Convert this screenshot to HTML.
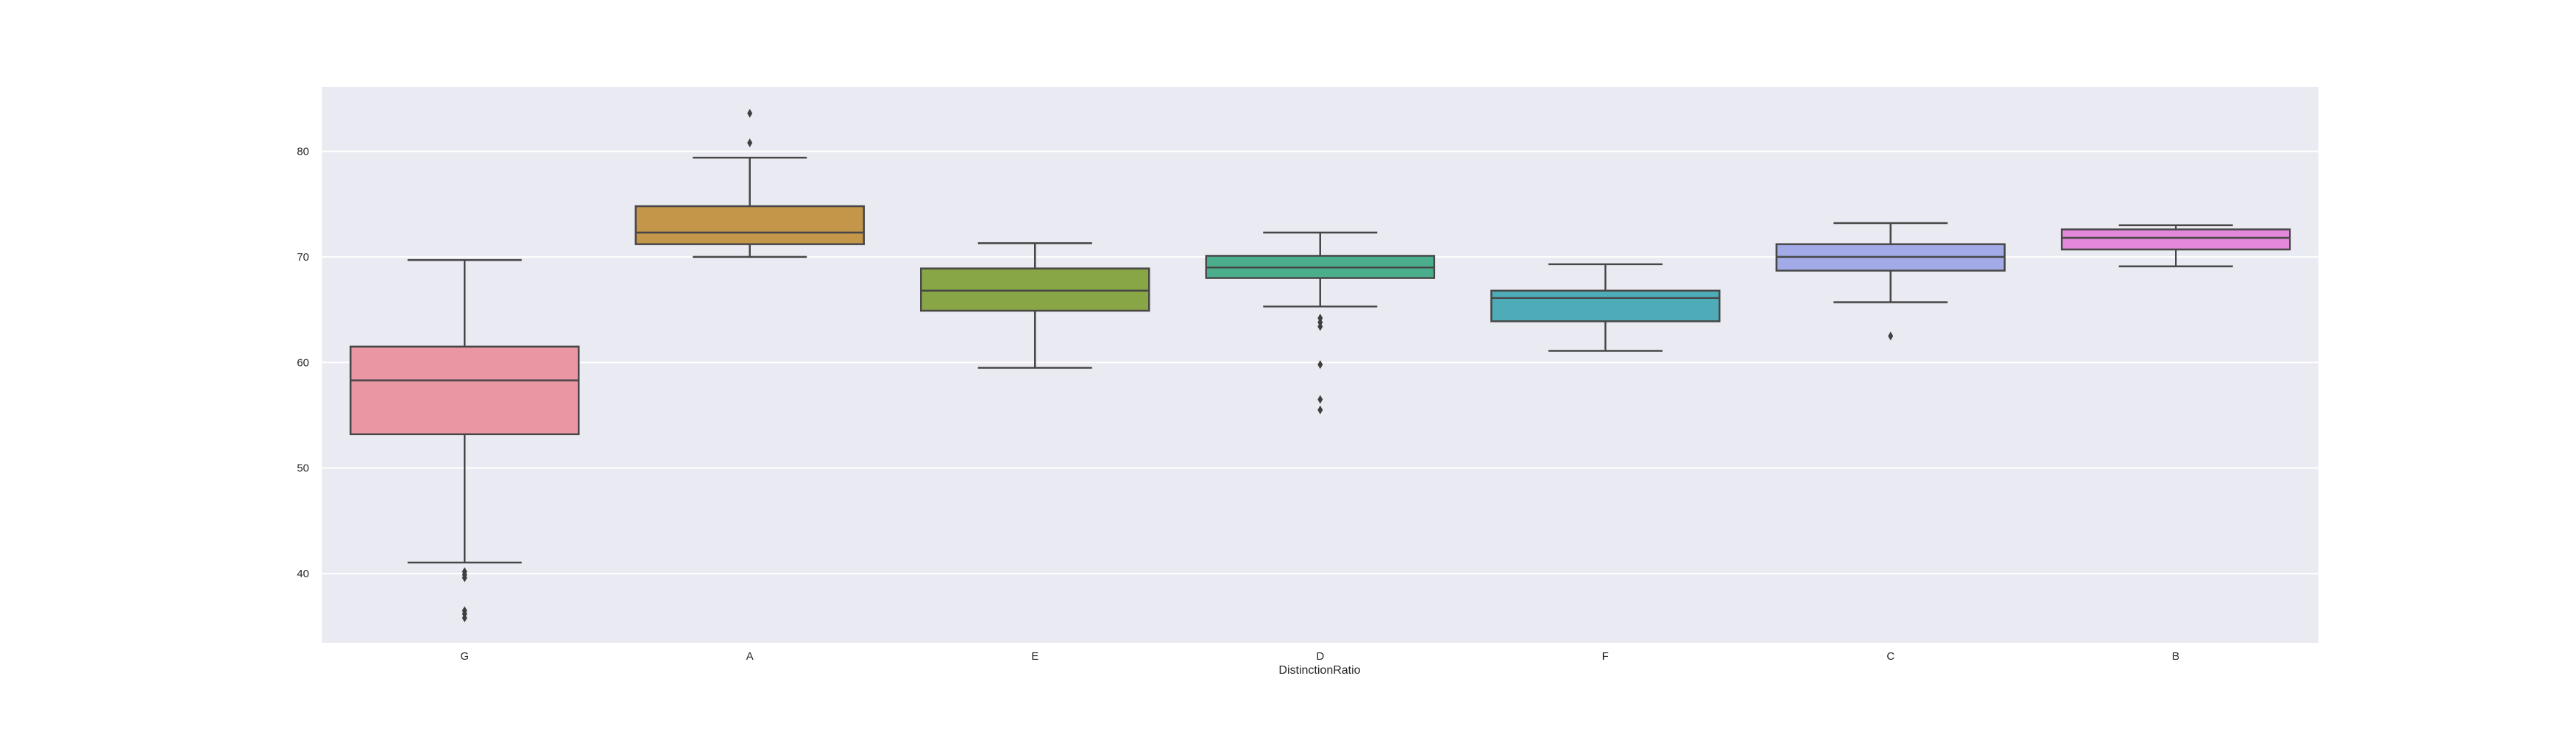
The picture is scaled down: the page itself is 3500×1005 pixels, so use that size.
<!DOCTYPE html>
<html><head><meta charset="utf-8"><style>
html,body{margin:0;padding:0;background:#fff;}
svg text{font-family:"Liberation Sans",sans-serif;fill:#262626;}
</style></head><body>
<svg width="3500" height="1000" xmlns="http://www.w3.org/2000/svg">
<rect x="437.5" y="118" width="2712.5" height="755" fill="#eaeaf2"/>
<g id="grid"></g><g id="yticks"></g><g id="boxes"></g><g id="xticks"></g>
<text x="909" y="0" transform="translate(407,496) rotate(-90)" text-anchor="middle" font-size="16">CGPA</text>
<text x="1793" y="915" text-anchor="middle" font-size="16">DistinctionRatio</text>
</svg>
<script>
const categories=["G","A","E","D","F","C","B"];
const colors=["#ea96a3","#c3964a","#88a646","#4aae8c","#4eabb8","#a2abe8","#e388da"];
const whiskLow=[41.05,70.0,59.5,65.3,61.1,65.7,69.1];
const q1=[53.2,71.2,64.9,68.0,63.9,68.7,70.7];
const median=[58.3,72.3,66.8,69.0,66.1,70.0,71.8];
const q3=[61.5,74.8,68.9,70.1,66.8,71.2,72.6];
const whiskHigh=[69.7,79.4,71.3,72.3,69.3,73.2,73.0];
const outliers=[[40.2,39.9,39.6,36.5,36.2,35.8],[83.6,80.8],[],[64.2,63.8,63.4,59.8,56.5,55.5],[],[62.5],[]];
const yTicks=[40,50,60,70,80];
const NS="http://www.w3.org/2000/svg";
const L=437.5,R=3150,T=118,B=873,ymin=33.45,ymax=86.1;
const bw=(R-L)/categories.length;
const y=v=>B-(v-ymin)/(ymax-ymin)*(B-T);
const x=i=>L+bw*(i+0.5);
function mk(tag,at,parent){const e=document.createElementNS(NS,tag);for(const k in at)e.setAttribute(k,at[k]);parent.appendChild(e);return e;}
const grid=document.getElementById('grid'),yt=document.getElementById('yticks'),bx=document.getElementById('boxes'),xt=document.getElementById('xticks');
yTicks.forEach(t=>{
 const g=mk('line',{x1:L,x2:R,y1:y(t),y2:y(t),stroke:'#fff','stroke-width':2},grid);
 
 
 const tx=mk('text',{x:420,y:y(t)+5,'text-anchor':'end','font-size':15},yt);tx.textContent=t;
 
 
});
const ec='#474747';
categories.forEach((c,i)=>{
 const cx=x(i),hw=bw*0.4,cw=bw*0.2;
 const g=mk('g',{},bx);
 
 
 mk('line',{x1:cx,x2:cx,y1:y(q3[i]),y2:y(whiskHigh[i]),stroke:ec,'stroke-width':2.5},g);
 mk('line',{x1:cx,x2:cx,y1:y(q1[i]),y2:y(whiskLow[i]),stroke:ec,'stroke-width':2.5},g);
 mk('line',{x1:cx-cw,x2:cx+cw,y1:y(whiskHigh[i]),y2:y(whiskHigh[i]),stroke:ec,'stroke-width':2.5},g);
 mk('line',{x1:cx-cw,x2:cx+cw,y1:y(whiskLow[i]),y2:y(whiskLow[i]),stroke:ec,'stroke-width':2.5},g);
 mk('rect',{x:cx-hw,y:y(q3[i]),width:2*hw,height:y(q1[i])-y(q3[i]),fill:colors[i],stroke:ec,'stroke-width':2.5},g);
 mk('line',{x1:cx-hw,x2:cx+hw,y1:y(median[i]),y2:y(median[i]),stroke:ec,'stroke-width':2.5},g);
 outliers[i].forEach(v=>{
  const p=mk('polygon',{points:`${cx},${y(v)-6} ${cx+3.5},${y(v)} ${cx},${y(v)+6} ${cx-3.5},${y(v)}`,fill:'#3f3f3f'},g);
  
  
 });
 const t=mk('text',{x:cx,y:896,'text-anchor':'middle','font-size':15},xt);t.textContent=c;
 
 
});
</script>
</body></html>
